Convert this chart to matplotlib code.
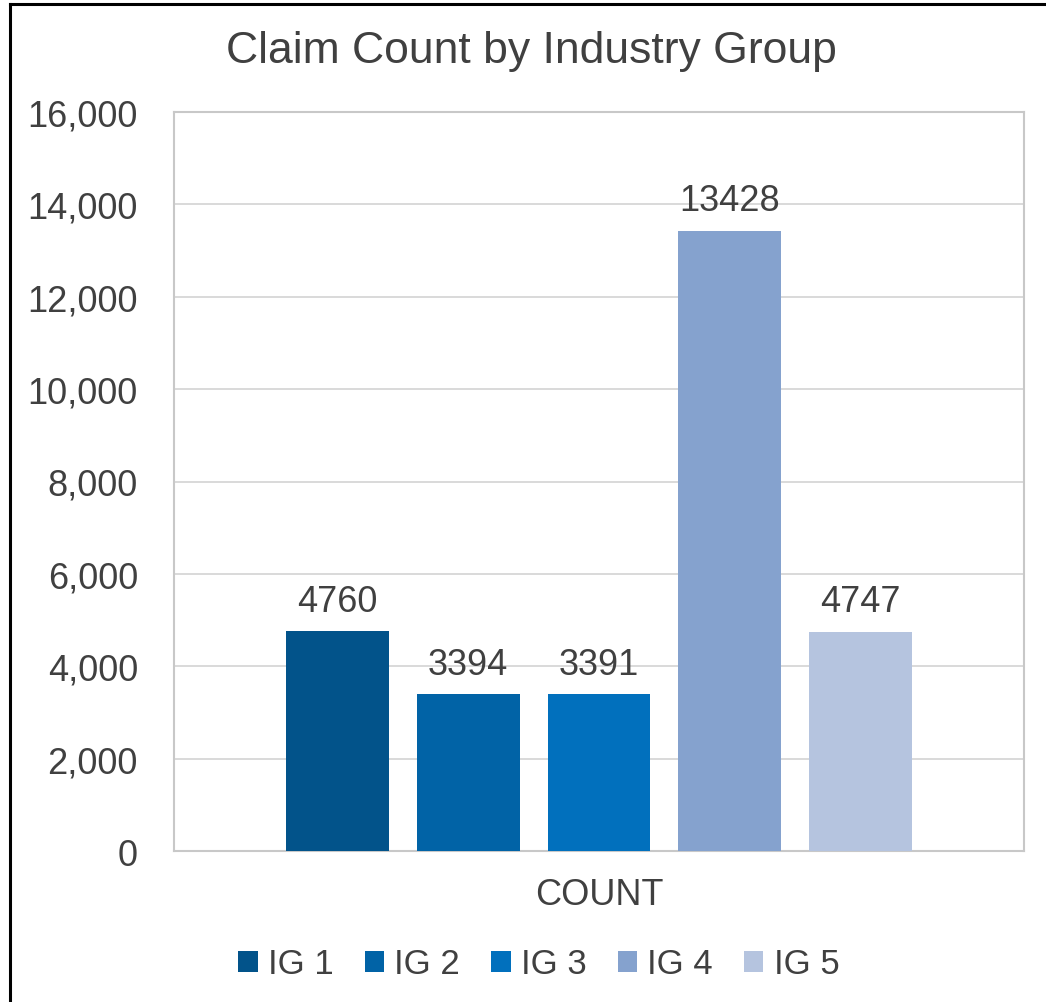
import numpy as np
import matplotlib
matplotlib.use("Agg")
import matplotlib.pyplot as plt
from matplotlib.lines import Line2D

plt.rcParams['font.family'] = ['Liberation Sans', 'DejaVu Sans']

# --- Data ---
groups = ['IG 1', 'IG 2', 'IG 3', 'IG 4', 'IG 5']
counts = [4760, 3394, 3391, 13428, 4747]
colors = ['#02538A', '#0163A6', '#0170BD', '#85A2CE', '#B5C4DF']
category = 'COUNT'
yticks = [0, 2000, 4000, 6000, 8000, 10000, 12000, 14000, 16000]

text_col = '#404040'
W, H = 1046, 1003

fig = plt.figure(figsize=(W / 100, H / 100), dpi=100)
ax = fig.add_axes([174 / W, 1 - 852 / H, (1024 - 174) / W, (852 - 113) / H])

x = np.arange(len(groups))
bars = []
for i, (g, v, c) in enumerate(zip(groups, counts, colors)):
    b = ax.bar(x[i], v, width=103 / 131, color=c, label=g, zorder=3)
    ax.bar_label(b, labels=[str(v)], padding=9, fontsize=26, color=text_col)
    bars.append(b)

ax.set_xlim(-1.248, len(groups) - 1 + 1.248)
ax.set_ylim(0, 16000)
ax.set_yticks(yticks)
ax.set_yticklabels([f'{t:,}' for t in yticks])
ax.set_xticks([x.mean()])
ax.set_xticklabels([category])
ax.tick_params(axis='y', length=0, pad=26, labelsize=26, labelcolor=text_col)
ax.tick_params(axis='x', length=0, pad=19, labelsize=26, labelcolor=text_col)
ax.grid(axis='y', color='#D9D9D9', lw=1.4, zorder=0)
for s in ax.spines.values():
    s.set_color('#C8C8C8')
    s.set_linewidth(1.5)

# title
fig.text(531 / W, 1 - 52 / H, 'Claim Count by Industry Group', ha='center', va='center',
         fontsize=32, color=text_col)

# legend
fig.legend(handles=[b[0] for b in bars], labels=groups, loc='center',
           bbox_to_anchor=(539 / W, 1 - 965 / H), ncol=5, frameon=False,
           fontsize=25, labelcolor=text_col, handlelength=0.55, handleheight=0.55,
           handletextpad=0.3, columnspacing=0.9, borderpad=0)

# outer chart border (left and top only)
fig.add_artist(Line2D([9.5 / W, 9.5 / W], [0, 1 - 4.5 / H], color='black', lw=2.2,
                      transform=fig.transFigure))
fig.add_artist(Line2D([9.5 / W, 1], [1 - 4.5 / H, 1 - 4.5 / H], color='black', lw=2.2,
                      transform=fig.transFigure))

fig.savefig('out.png', dpi=100, facecolor='white')
